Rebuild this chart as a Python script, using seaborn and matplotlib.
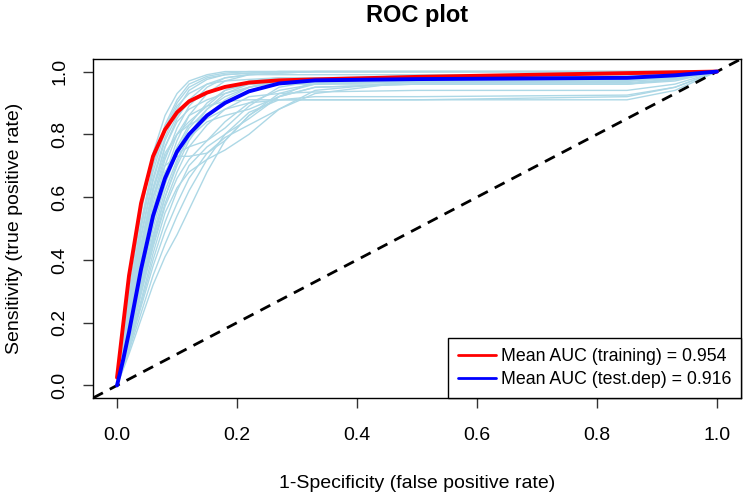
import numpy as np
import pandas as pd
import matplotlib
matplotlib.use("Agg")
import matplotlib.pyplot as plt
import seaborn as sns

# shared false-positive-rate grid the curves were read at
FPR_GRID = [0, 0.02, 0.04, 0.06, 0.08, 0.10, 0.12, 0.15, 0.18, 0.22, 0.27, 0.33, 0.5, 0.85, 0.93, 1.0]

# individual replicate ROC curves (tpr at FPR_GRID)
RUN_TPR = [
    [0, 0.30, 0.55, 0.74, 0.86, 0.93, 0.97, 0.99, 1.0, 1.0, 1.0, 1.0, 1.0, 1.0, 1.0, 1.0],
    [0, 0.28, 0.52, 0.70, 0.83, 0.91, 0.96, 0.985, 0.995, 1.0, 1.0, 1.0, 1.0, 1.0, 1.0, 1.0],
    [0, 0.25, 0.48, 0.66, 0.79, 0.88, 0.94, 0.975, 0.99, 0.995, 1.0, 1.0, 1.0, 1.0, 1.0, 1.0],
    [0, 0.22, 0.45, 0.63, 0.76, 0.85, 0.91, 0.96, 0.98, 0.99, 0.99, 0.99, 0.99, 0.99, 0.995, 1.0],
    [0, 0.20, 0.42, 0.60, 0.73, 0.80, 0.84, 0.89, 0.94, 0.97, 0.98, 0.98, 0.98, 0.98, 0.985, 1.0],
    [0, 0.20, 0.42, 0.60, 0.70, 0.73, 0.73, 0.74, 0.78, 0.86, 0.93, 0.96, 0.97, 0.97, 0.98, 1.0],
    [0, 0.18, 0.38, 0.56, 0.68, 0.74, 0.76, 0.78, 0.82, 0.89, 0.95, 0.97, 0.975, 0.975, 0.985, 1.0],
    [0, 0.17, 0.36, 0.53, 0.66, 0.76, 0.83, 0.90, 0.94, 0.96, 0.97, 0.97, 0.97, 0.97, 0.98, 1.0],
    [0, 0.18, 0.38, 0.56, 0.70, 0.80, 0.86, 0.89, 0.905, 0.91, 0.91, 0.91, 0.91, 0.91, 0.94, 1.0],
    [0, 0.15, 0.33, 0.50, 0.64, 0.74, 0.80, 0.85, 0.88, 0.90, 0.91, 0.91, 0.91, 0.92, 0.95, 1.0],
    [0, 0.14, 0.31, 0.47, 0.60, 0.70, 0.78, 0.86, 0.91, 0.95, 0.97, 0.98, 0.98, 0.98, 0.985, 1.0],
    [0, 0.13, 0.29, 0.44, 0.57, 0.66, 0.72, 0.78, 0.84, 0.90, 0.94, 0.96, 0.97, 0.97, 0.98, 1.0],
    [0, 0.12, 0.27, 0.42, 0.55, 0.63, 0.68, 0.72, 0.75, 0.80, 0.88, 0.94, 0.97, 0.97, 0.98, 1.0],
    [0, 0.16, 0.34, 0.52, 0.67, 0.78, 0.86, 0.93, 0.97, 0.99, 0.995, 1.0, 1.0, 1.0, 1.0, 1.0],
    [0, 0.24, 0.47, 0.65, 0.78, 0.86, 0.90, 0.93, 0.95, 0.96, 0.96, 0.96, 0.96, 0.96, 0.975, 1.0],
    [0, 0.21, 0.43, 0.62, 0.76, 0.84, 0.88, 0.91, 0.93, 0.95, 0.97, 0.98, 0.98, 0.98, 0.99, 1.0],
    [0, 0.19, 0.40, 0.58, 0.72, 0.82, 0.89, 0.95, 0.98, 0.99, 0.995, 1.0, 1.0, 1.0, 1.0, 1.0],
    [0, 0.15, 0.32, 0.48, 0.62, 0.72, 0.79, 0.84, 0.86, 0.88, 0.92, 0.95, 0.96, 0.96, 0.97, 1.0],
    [0, 0.26, 0.50, 0.68, 0.81, 0.89, 0.93, 0.96, 0.97, 0.975, 0.98, 0.98, 0.98, 0.98, 0.99, 1.0],
    [0, 0.13, 0.30, 0.46, 0.60, 0.71, 0.80, 0.88, 0.93, 0.96, 0.975, 0.98, 0.985, 0.985, 0.99, 1.0],
    [0, 0.22, 0.44, 0.62, 0.74, 0.80, 0.83, 0.86, 0.90, 0.94, 0.96, 0.965, 0.965, 0.965, 0.975, 1.0],
    [0, 0.17, 0.35, 0.52, 0.65, 0.75, 0.82, 0.88, 0.92, 0.95, 0.965, 0.97, 0.975, 0.975, 0.985, 1.0],
    [0, 0.27, 0.51, 0.70, 0.82, 0.90, 0.95, 0.98, 0.99, 0.995, 1.0, 1.0, 1.0, 1.0, 1.0, 1.0],
    [0, 0.14, 0.30, 0.45, 0.58, 0.68, 0.76, 0.83, 0.88, 0.92, 0.93, 0.935, 0.94, 0.94, 0.96, 1.0],
    [0, 0.10, 0.21, 0.32, 0.41, 0.48, 0.56, 0.68, 0.78, 0.86, 0.92, 0.95, 0.96, 0.96, 0.975, 1.0],
    [0, 0.11, 0.23, 0.35, 0.45, 0.54, 0.62, 0.72, 0.80, 0.87, 0.91, 0.92, 0.92, 0.925, 0.95, 1.0],
    [0, 0.12, 0.25, 0.38, 0.49, 0.58, 0.66, 0.74, 0.79, 0.83, 0.88, 0.93, 0.97, 0.975, 0.98, 1.0],
    [0, 0.12, 0.26, 0.40, 0.52, 0.62, 0.70, 0.76, 0.80, 0.85, 0.92, 0.97, 0.99, 0.99, 0.995, 1.0],
]

# mean curves
TRAIN_FPR = [0, 0, 0.01, 0.02, 0.04, 0.06, 0.08, 0.10, 0.12, 0.15, 0.18, 0.22, 0.27, 0.33, 0.5, 0.85, 1.0]
TRAIN_TPR = [0, 0.05, 0.19, 0.35, 0.58, 0.73, 0.815, 0.87, 0.905, 0.933, 0.951, 0.965, 0.972, 0.975, 0.983, 0.995, 1.0]
TEST_FPR = [0, 0.01, 0.02, 0.04, 0.06, 0.08, 0.10, 0.12, 0.15, 0.18, 0.22, 0.27, 0.33, 0.5, 0.85, 0.93, 1.0]
TEST_TPR = [0, 0.08, 0.17, 0.37, 0.54, 0.66, 0.745, 0.80, 0.86, 0.90, 0.937, 0.962, 0.972, 0.976, 0.98, 0.988, 1.0]

AUC_TRAIN = 0.954
AUC_TEST = 0.916
TICKS = [0.0, 0.2, 0.4, 0.6, 0.8, 1.0]

sns.set_theme(style="white")
plt.rcParams["font.family"] = ["Liberation Sans", "DejaVu Sans"]
plt.rcParams.update({"text.color": "black", "axes.labelcolor": "black",
                     "xtick.color": "black", "ytick.color": "black"})

runs = pd.DataFrame(
    [(i, f, t) for i, tprs in enumerate(RUN_TPR) for f, t in zip(FPR_GRID, tprs)],
    columns=["run", "fpr", "tpr"],
)
train = pd.DataFrame({"fpr": TRAIN_FPR, "tpr": TRAIN_TPR})
test = pd.DataFrame({"fpr": TEST_FPR, "tpr": TEST_TPR})

fig = plt.figure(figsize=(7.46, 4.95), dpi=100)
ax = fig.add_axes([0.1247, 0.196, 0.8686, 0.6848])

sns.lineplot(data=runs, x="fpr", y="tpr", units="run", estimator=None, sort=False,
             color="lightblue", lw=1.0, ax=ax, legend=False)
ax.axline((0, 0), (1, 1), color="black", lw=2.0, ls=(0, (4, 2.8)))
sns.lineplot(data=train, x="fpr", y="tpr", sort=False, color="red", lw=2.8, ax=ax,
             label=f"Mean AUC (training) = {AUC_TRAIN:.3f}")
sns.lineplot(data=test, x="fpr", y="tpr", sort=False, color="blue", lw=2.8, ax=ax,
             label=f"Mean AUC (test.dep) = {AUC_TEST:.3f}")

ax.set_xlim(-0.04, 1.04)
ax.set_ylim(-0.04, 1.04)
ax.set_xticks(TICKS)
ax.set_yticks(TICKS)
ax.set_xticklabels([f"{t:.1f}" for t in TICKS])
ax.set_yticklabels([f"{t:.1f}" for t in TICKS], rotation=90, va="center")
ax.tick_params(axis="both", which="both", bottom=True, left=True, direction="out",
               length=7, width=1, color="#333333", labelsize=14)
ax.tick_params(axis="x", pad=14)
ax.tick_params(axis="y", pad=11)
for s in ax.spines.values():
    s.set_color("black")
    s.set_linewidth(1.0)

ax.set_xlabel("1-Specificity (false positive rate)", fontsize=14, labelpad=22)
ax.set_ylabel("Sensitivity (true positive rate)", fontsize=14, labelpad=20)
ax.set_title("ROC plot", fontsize=17, fontweight="bold", pad=27)

leg = ax.legend(loc="lower right", bbox_to_anchor=(1.0, 0.0), borderaxespad=0,
                fancybox=False, framealpha=1, edgecolor="black", fontsize=12.8,
                handlelength=2.1, handletextpad=0.3, borderpad=0.55, labelspacing=0.35)
leg.get_frame().set_linewidth(1.0)
for h in leg.get_lines():
    h.set_linewidth(2.0)

fig.savefig("out.png", dpi=100)
